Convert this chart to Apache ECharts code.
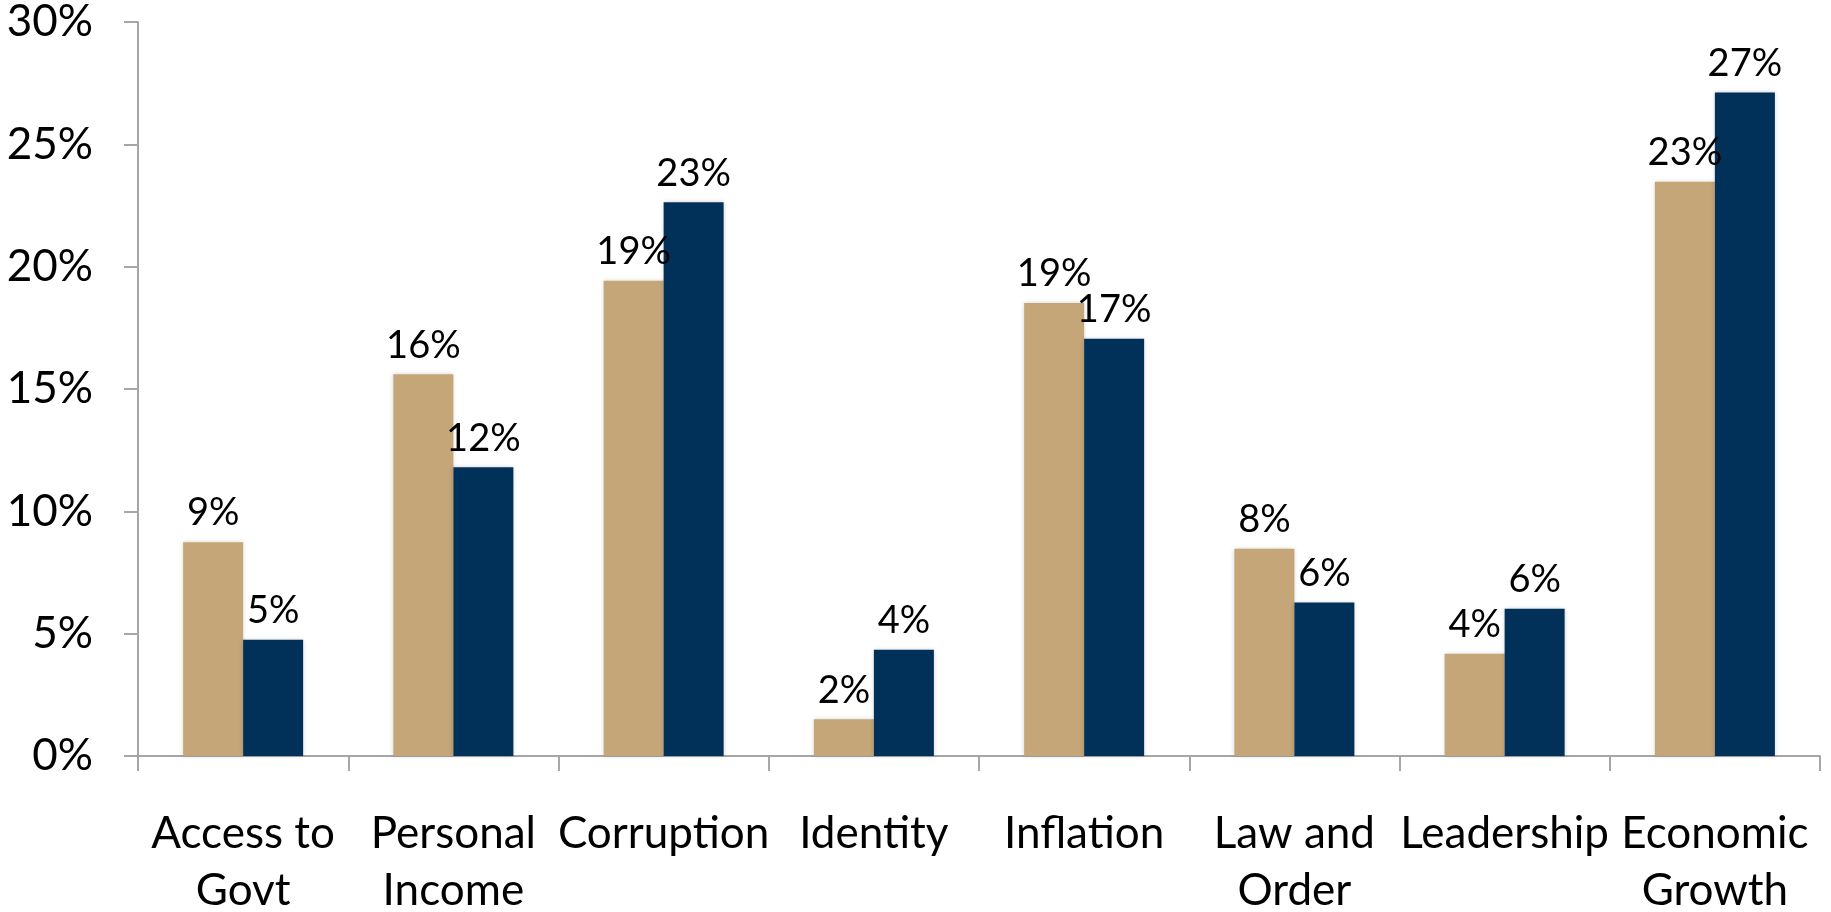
<!DOCTYPE html>
<html>
<head>
<meta charset="utf-8">
<script src="https://cdn.jsdelivr.net/npm/echarts@6/dist/echarts.min.js"></script>
<style>
html,body{margin:0;padding:0;background:#fff;}
#chart{width:1831px;height:912px;}
</style>
</head>
<body>
<div id="chart"></div>
<script>
// categories (two-line labels as in the original)
var categories = ['Access to\nGovt', 'Personal\nIncome', 'Corruption', 'Identity', 'Inflation', 'Law and\nOrder', 'Leadership', 'Economic\nGrowth'];
// first series (tan) and second series (navy), in percent
var tanValues = [8.74, 15.6, 19.42, 1.5, 18.52, 8.47, 4.18, 23.47];
var navyValues = [4.75, 11.8, 22.63, 4.34, 17.05, 6.27, 6.02, 27.12];
// value axis
var yMin = 0, yMax = 30, yStep = 5;

var font = 'Lato, "Open Sans", sans-serif';
var axisGrey = '#a6a6a6';

var labelOpt = {
	show: true,
	position: 'top',
	distance: 10,
	color: '#000',
	fontFamily: font,
	fontSize: 38,
	formatter: function(p){ return Math.round(p.value) + '%'; }
};

var option = {
	animation: false,
	grid: {
		left: 138,
		right: 11,
		top: 22,
		bottom: 156,
		containLabel: false,
		outerBoundsMode: 'none'
	},
	xAxis: {
		type: 'category',
		data: categories,
		boundaryGap: true,
		axisLine: { show: true, lineStyle: { color: axisGrey, width: 2 } },
		axisTick: { show: true, length: 15, lineStyle: { color: axisGrey, width: 2 } },
		axisLabel: {
			interval: 0,
			margin: 49,
			color: '#000',
			fontFamily: font,
			fontSize: 44,
			lineHeight: 57
		},
		splitLine: { show: false }
	},
	yAxis: {
		type: 'value',
		min: yMin,
		max: yMax,
		interval: yStep,
		axisLine: { show: true, lineStyle: { color: axisGrey, width: 2 } },
		axisTick: { show: true, length: 14, lineStyle: { color: axisGrey, width: 2 } },
		axisLabel: {
			margin: 45,
			color: '#000',
			fontFamily: font,
			fontSize: 44,
			formatter: '{value}%'
		},
		splitLine: { show: false }
	},
	series: [
		{
			type: 'bar',
			data: tanValues,
			barWidth: 60,
			barGap: '0%',
			itemStyle: { color: '#C5A678', shadowColor: 'rgba(0,0,0,0.18)', shadowBlur: 4 },
			label: labelOpt
		},
		{
			type: 'bar',
			data: navyValues,
			barWidth: 60,
			barGap: '0%',
			itemStyle: { color: '#013158', shadowColor: 'rgba(0,0,0,0.18)', shadowBlur: 4 },
			label: labelOpt
		}
	]
};

var chart = echarts.init(document.getElementById('chart'));
chart.setOption(option);
</script>
</body>
</html>
